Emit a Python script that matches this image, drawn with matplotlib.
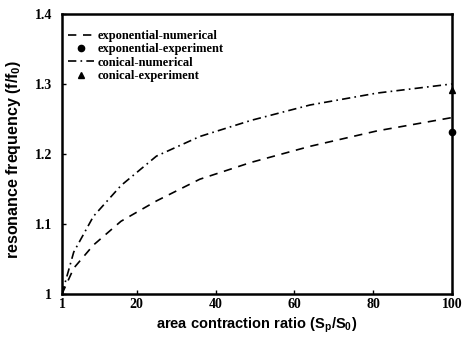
import matplotlib
matplotlib.use('Agg')
import matplotlib.pyplot as plt

plt.rcParams['mathtext.default'] = 'regular'

area_ratio = [1, 4, 9, 16, 25, 36, 49, 64, 81, 100]
exp_num = [1.0, 1.037, 1.070, 1.104, 1.133, 1.164, 1.188, 1.211, 1.233, 1.252]
con_num = [1.0, 1.060, 1.111, 1.155, 1.197, 1.225, 1.248, 1.270, 1.287, 1.300]
exp_x = [100]
exp_meas = [1.232]
con_x = [100]
con_meas = [1.292]

xticks = [1, 20, 40, 60, 80, 100]
yticks = [1.0, 1.1, 1.2, 1.3, 1.4]
ylabels = ['1', '1.1', '1.2', '1.3', '1.4']

serif = 'Liberation Serif'
sans = 'Liberation Sans'

fig = plt.figure(figsize=(4.62, 3.40), dpi=100)
ax = fig.add_axes([0.134, 0.135, 0.844, 0.824])

ax.plot(area_ratio, exp_num, 'k--', lw=1.2, dashes=(5, 4), label='exponential-numerical')
ax.plot(exp_x, exp_meas, 'ko', ms=4.5, ls='none', label='exponential-experiment', clip_on=False)
ax.plot(area_ratio, con_num, 'k-.', lw=1.2, dashes=(5, 2.5, 1, 2.5), label='conical-numerical')
ax.plot(con_x, con_meas, 'k^', ms=5, ls='none', label='conical-experiment', clip_on=False)

ax.set_xlim(1, 100)
ax.set_ylim(1.0, 1.4)
ax.set_xticks(xticks)
ax.set_xticklabels([str(t) for t in xticks], family=serif, fontweight='bold', fontsize=10)
ax.set_yticks(yticks)
ax.set_yticklabels(ylabels, family=serif, fontweight='bold', fontsize=10)
ax.tick_params(direction='in', length=3, width=1)
ax.tick_params(axis='x', pad=3)
ax.tick_params(axis='y', pad=7)
for s in ax.spines.values():
    s.set_linewidth(1.8)

ax.set_xlabel('area contraction ratio (S$_p$/S$_0$)', family=sans, fontweight='bold', fontsize=10.5)
ax.xaxis.set_label_coords(0.5, -0.077)
ax.set_ylabel('resonance frequency (f/f$_0$)', family=sans, fontweight='bold', fontsize=11.5)
ax.yaxis.set_label_coords(-0.1, 0.482)

ax.legend(loc='upper left', frameon=False, handlelength=2.1, handletextpad=0.25,
          labelspacing=0.1, borderaxespad=0.9, bbox_to_anchor=(-0.026, 1.0),
          prop={'family': serif, 'weight': 'bold', 'size': 9})

plt.savefig('out.png', dpi=100)
